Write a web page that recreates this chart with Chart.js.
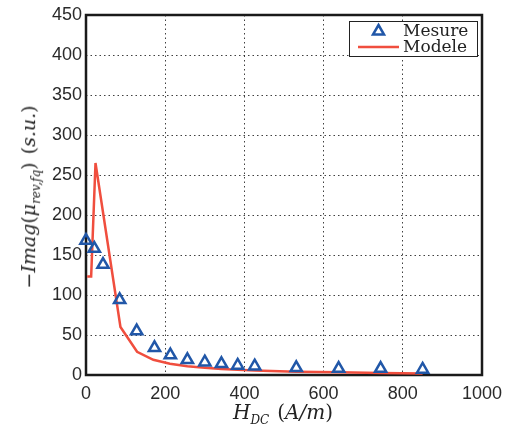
<!DOCTYPE html>
<html>
<head>
<meta charset="utf-8">
<script src="https://cdn.jsdelivr.net/npm/chart.js@4"></script>
<style>
  body { margin: 0; background: #fff; }
  #wrap { position: relative; width: 517px; height: 429px; }
  .ytitle {
    position: absolute; left: 30px; top: 197px;
    transform: translate(-50%, -50%) rotate(-90deg);
    font: italic 19px "DejaVu Serif", serif; color: #222; white-space: nowrap;
  }
  .xtitle {
    position: absolute; left: 283px; top: 413px;
    transform: translate(-50%, -50%);
    font: italic 20px "DejaVu Serif", serif; color: #222; white-space: nowrap;
  }
  .up { font-style: normal; }
  .gat { display: inline-block; width: 8px; }
  sub { font-size: 12px; }
  #legende {
    position: absolute; left: 349px; top: 21px; width: 127px; height: 34px;
    border: 1px solid #222; background: #fff;
    font: 17px "DejaVu Serif", serif; color: #222;
  }
  .rij { position: absolute; left: 0; height: 17px; line-height: 17px; }
  .rij span { position: absolute; left: 53px; }
</style>
</head>
<body>
<div id="wrap">
  <canvas id="grafiek" width="517" height="429"></canvas>
  <div class="ytitle"><span class="up">−</span>Imag<span class="up">(</span>μ<sub>rev,fq</sub><span class="up">)</span><span class="gat"></span><span class="up">(</span>s.u.<span class="up">)</span></div>
  <div class="xtitle">H<sub>DC</sub><span class="gat"></span><span class="up">(</span>A/m<span class="up">)</span></div>
  <div id="legende">
    <div class="rij" style="top:0">
      <svg width="50" height="17" style="position:absolute;left:0;top:0"><polygon points="28.5,3 34,12.5 23,12.5" fill="#fff" stroke="#2157a8" stroke-width="2.5"/></svg>
      <span>Mesure</span>
    </div>
    <div class="rij" style="top:16px">
      <svg width="50" height="17" style="position:absolute;left:0;top:0"><line x1="8" y1="9" x2="49" y2="9" stroke="#f04e3e" stroke-width="2.5"/></svg>
      <span>Modele</span>
    </div>
  </div>
</div>
<script>
const MESURE_H = [0, 21, 43, 85, 128, 173, 213, 256, 300, 342, 383, 426, 531, 638, 744, 850];
const MESURE_W = [168, 158, 138, 94, 55, 34, 25, 19, 16, 14, 12, 11, 9, 8, 8, 7];

const MODELE_H = [3, 13, 24, 87, 129, 170, 212, 256, 300, 342, 383, 426, 531, 638, 744, 850];
const MODELE_W = [123, 123, 265, 60, 29, 19, 14, 11, 9, 7.5, 6.5, 5.5, 4.2, 3.3, 2.6, 2];

const X_MIN = 0, X_MAX = 1000, X_STAP = 200;
const Y_MIN = 0, Y_MAX = 450, Y_STAP = 50;

const punten = (xs, ys) => xs.map((x, i) => ({ x, y: ys[i] }));

// kader rond het plotgebied, zoals in matlab
const kader = {
  id: 'kader',
  beforeDatasetsDraw(chart) {
    const { ctx, chartArea: a } = chart;
    ctx.save();
    ctx.strokeStyle = '#1a1a1a';
    ctx.lineWidth = 2.5;
    ctx.strokeRect(a.left, a.top, a.right - a.left, a.bottom - a.top);
    ctx.restore();
  }
};

const tickFont = { family: '"Liberation Sans", Arial, sans-serif', size: 18 };
const grid = { color: 'rgba(0,0,0,0.75)', lineWidth: 1, drawTicks: false };
const rand = { display: false, dash: [1.5, 3] };

new Chart(document.getElementById('grafiek'), {
  type: 'scatter',
  data: {
    datasets: [
      {
        label: 'Modele',
        data: punten(MODELE_H, MODELE_W),
        showLine: true,
        borderColor: '#f04e3e',
        borderWidth: 2.5,
        pointRadius: 0,
        tension: 0,
        clip: 10,
        order: 2
      },
      {
        label: 'Mesure',
        data: punten(MESURE_H, MESURE_W),
        showLine: false,
        pointStyle: 'triangle',
        pointRadius: 6.5,
        pointBorderWidth: 2.5,
        borderColor: '#2157a8',
        backgroundColor: 'rgba(255,255,255,0)',
        clip: 10,
        order: 1
      }
    ]
  },
  options: {
    responsive: false,
    animation: false,
    devicePixelRatio: 1,
    layout: { autoPadding: false, padding: { left: 0, right: 35, top: 15, bottom: 0 } },
    plugins: { legend: { display: false }, tooltip: { enabled: false } },
    scales: {
      x: {
        type: 'linear', min: X_MIN, max: X_MAX,
        ticks: { stepSize: X_STAP, font: tickFont, color: '#2a2a2a', padding: 8, maxRotation: 0, callback: v => String(v) },
        grid, border: rand,
        afterFit: s => { s.height = 54; }
      },
      y: {
        type: 'linear', min: Y_MIN, max: Y_MAX,
        ticks: { stepSize: Y_STAP, font: tickFont, color: '#2a2a2a', padding: 4, callback: v => String(v) },
        grid, border: rand,
        afterFit: s => { s.width = 86; }
      }
    }
  },
  plugins: [kader]
});
</script>
</body>
</html>
